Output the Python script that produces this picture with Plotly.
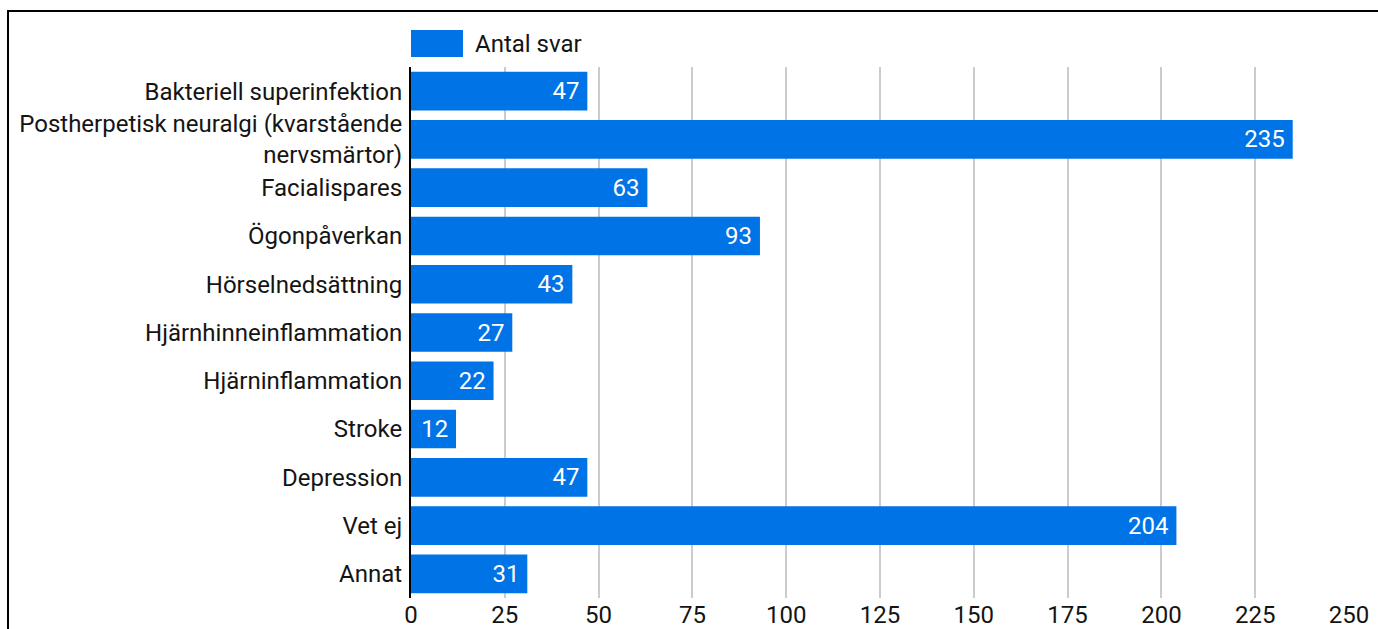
import plotly.graph_objects as go

categories = [
    "Bakteriell superinfektion",
    "Postherpetisk neuralgi (kvarstående<br>nervsmärtor)",
    "Facialispares",
    "Ögonpåverkan",
    "Hörselnedsättning",
    "Hjärnhinneinflammation",
    "Hjärninflammation",
    "Stroke",
    "Depression",
    "Vet ej",
    "Annat",
]
values = [47, 235, 63, 93, 43, 27, 22, 12, 47, 204, 31]
series_name = "Antal svar"
tick_vals = [0, 25, 50, 75, 100, 125, 150, 175, 200, 225, 250]

BLUE = "#0073E6"
FONT = "Roboto"
FS = 24
TXT = "#141414"

fig = go.Figure()
fig.add_trace(go.Bar(
    x=values, y=categories, orientation="h",
    name=series_name, marker=dict(color=BLUE, line=dict(width=0)),
    text=values, texttemplate="%{x}\u2009", textposition="inside", insidetextanchor="end",
    textfont=dict(color="white", size=FS, family=FONT),
    cliponaxis=False, showlegend=False,
))

W, H = 1378, 629
L, R, T, B = 411, 29, 67, 31
pw, ph = W - L - R, H - T - B

def px(xp):
    return (xp - L) / pw

def py(yp):
    return (H - B - yp) / ph

fig.update_layout(
    width=W, height=H,
    margin=dict(l=L, r=R, t=T, b=B, autoexpand=False),
    paper_bgcolor="white", plot_bgcolor="white",
    font=dict(family=FONT, size=FS, color=TXT),
    bargap=0.2,
    xaxis=dict(range=[0, 250], tickvals=tick_vals, showgrid=True,
               gridcolor="#CCCCCC", gridwidth=2, zeroline=False,
               showline=False, ticks="", ticklabelstandoff=0, automargin=False,
               tickfont=dict(size=FS, color=TXT)),
    yaxis=dict(autorange="reversed", showgrid=False, zeroline=False,
               showline=True, linecolor="black", linewidth=2, ticks="",
               ticklabelstandoff=2, automargin=False,
               tickfont=dict(size=FS, color=TXT)),
    shapes=[
        dict(type="rect", xref="paper", yref="paper",
             x0=px(8), x1=px(1400), y0=py(660), y1=py(11),
             line=dict(color="black", width=2), fillcolor="rgba(0,0,0,0)", layer="above"),
        dict(type="rect", xref="paper", yref="paper",
             x0=px(411), x1=px(463), y0=py(57), y1=py(30),
             line=dict(width=0), fillcolor=BLUE),
    ],
    annotations=[
        dict(text=series_name, xref="paper", yref="paper", x=px(473), y=py(43.5),
             xanchor="left", yanchor="middle", showarrow=False,
             font=dict(size=FS, family=FONT, color=TXT)),
    ],
)

fig.write_html("out.html")
